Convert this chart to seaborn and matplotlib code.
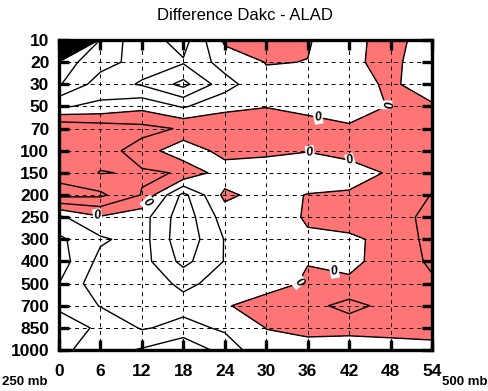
import numpy as np
import pandas as pd
import matplotlib
matplotlib.use("Agg")
import matplotlib.pyplot as plt
import seaborn as sns

# forecast hours (x) and pressure levels (y)
hours = [0, 6, 12, 18, 24, 30, 36, 42, 48, 54]
pressure = [10, 20, 30, 50, 70, 100, 150, 200, 250, 300, 400, 500, 700, 850, 1000]

# difference values, one list per pressure level
p10 = [40.0, 2.6, 1.5, 2.4, -0.2, -1.0, -0.05, 0.39, -0.5, 0.72]
p20 = [3.5, 2.4, 1.6, 1.9, 0.57, -0.03, 0.01, 0.19, -0.3, 0.73]
p30 = [3.1, 1.5, 2.1, 3.3, 1.4, 0.2, 0.6, 0.6, -0.25, 0.77]
p50 = [1.1, 0.8, 0.3, 1.1, 0.33, 0.05, 0.57, 0.8, -0.1, -0.18]
p70 = [-1.9, -1.6, -1.3, -0.9, -0.9, -0.9, -0.85, -0.24, -0.7, -0.7]
p100 = [-1.6, -1.4, -0.6, 0.8, -0.45, -0.3, -0.05, -0.5, -0.7, -0.8]
p150 = [-1.75, -0.95, -1.1, -0.95, 0.65, 0.77, 0.8, 0.69, -0.17, -0.8]
p200 = [-2.3, -2.2, -0.95, 2.3, -0.25, 0.45, -0.05, -0.2, -0.6, -1.02]
p250 = [1.2, 0.1, 0.6, 2.6, 0.55, 0.5, -0.1, -0.5, -0.6, -1.27]
p300 = [2.2, 1.15, 0.6, 2.7, 0.95, 0.5, 0.12, 0.2, -0.31, -1.32]
p400 = [2.5, 0.7, 0.6, 2.3, 0.95, 0.5, 0.05, 0.4, -0.7, -1.08]
p500 = [2.0, 0.3, 0.5, 1.19, 0.7, 0.65, -0.2, -0.28, -0.6, -0.93]
p700 = [1.9, 0.95, 0.6, 0.69, 0.15, -0.73, -0.7, -1.3, -0.7, -0.8]
p850 = [2.3, 1.9, 0.9, 1.3, 0.85, -0.02, -0.3, -0.47, -0.4, -0.5]
p1000 = [2.2, 1.6, 2.1, 2.9, 1.54, 0.3, 0.43, 0.84, 0.49, 0.41]

rows = [p10, p20, p30, p50, p70, p100, p150, p200, p250, p300, p400, p500, p700, p850, p1000]
df = pd.DataFrame(rows, index=pressure, columns=hours)

title = "Difference Dakc - ALAD"
left_note = "250 mb"
right_note = "500 mb"

sns.set_theme(style="white")
plt.rcParams["font.family"] = ["Liberation Sans", "DejaVu Sans"]

fig = plt.figure(figsize=(4.88, 3.91), dpi=100)
ax = fig.add_axes([59 / 488, 1 - 350 / 391, (432 - 59) / 488, (350 - 40) / 391])

X = np.array(hours, dtype=float)
Y = np.arange(len(pressure), dtype=float)
Z = df.values

ax.contourf(X, Y, Z, levels=[-100, 0], colors=["#ff7474"], zorder=1)
line_levels = [-3, -2, -1, 1, 2, 3] + list(range(4, 41))
ax.contour(X, Y, Z, levels=line_levels, colors="black", linewidths=1.0,
           linestyles="solid", negative_linestyles="solid", zorder=2)

label_pos = [(37.5, 3.48), (48.0, 2.85), (36.4, 4.97), (42.2, 5.42),
             (12.9, 7.36), (5.5, 8.04), (34.9, 10.98), (39.9, 10.39)]
zero = ax.contour(X, Y, Z, levels=[0], colors="black", linewidths=1.0,
                  linestyles="solid", zorder=2)
txts = ax.clabel(zero, levels=[0], fmt={0: "0"}, manual=label_pos, inline=True,
                 inline_spacing=1, fontsize=9)
for t in txts:
    t.set_fontstyle("italic")
    t.set_fontweight("bold")
    t.set_zorder(5)
    t.set_bbox(dict(facecolor="white", edgecolor="none", pad=0.6))

ax.set_xlim(0, 54)
ax.set_ylim(len(pressure) - 1, 0)
ax.set_xticks(hours)
ax.set_xticklabels([str(h) for h in hours])
ax.set_yticks(Y)
ax.set_yticklabels([str(p) for p in pressure])

ax.grid(True, color="black", linestyle=(0, (4, 4)), linewidth=0.7)
ax.set_axisbelow(False)

for s in ax.spines.values():
    s.set_visible(True)
    s.set_color("black")
    s.set_linewidth(2.4)
    s.set_zorder(6)

ax.tick_params(axis="both", which="major", direction="in", length=7, width=2.4,
               color="black", top=True, right=True, bottom=True, left=True,
               labelsize=12.5)
ax.tick_params(axis="x", pad=10)
ax.tick_params(axis="y", pad=7)
for lab in ax.get_xticklabels() + ax.get_yticklabels():
    lab.set_fontweight("bold")
    lab.set_color("black")

fig.text(245 / 488, 1 - 15 / 391, title, ha="center", va="center", fontsize=12, color="black")
fig.text(2 / 488, 1 - 382 / 391, left_note, ha="left", va="center", fontsize=9.5, fontweight="bold", color="black")
fig.text(487 / 488, 1 - 382 / 391, right_note, ha="right", va="center", fontsize=9.5, fontweight="bold", color="black")

fig.savefig("out.png", dpi=100, facecolor="white")
